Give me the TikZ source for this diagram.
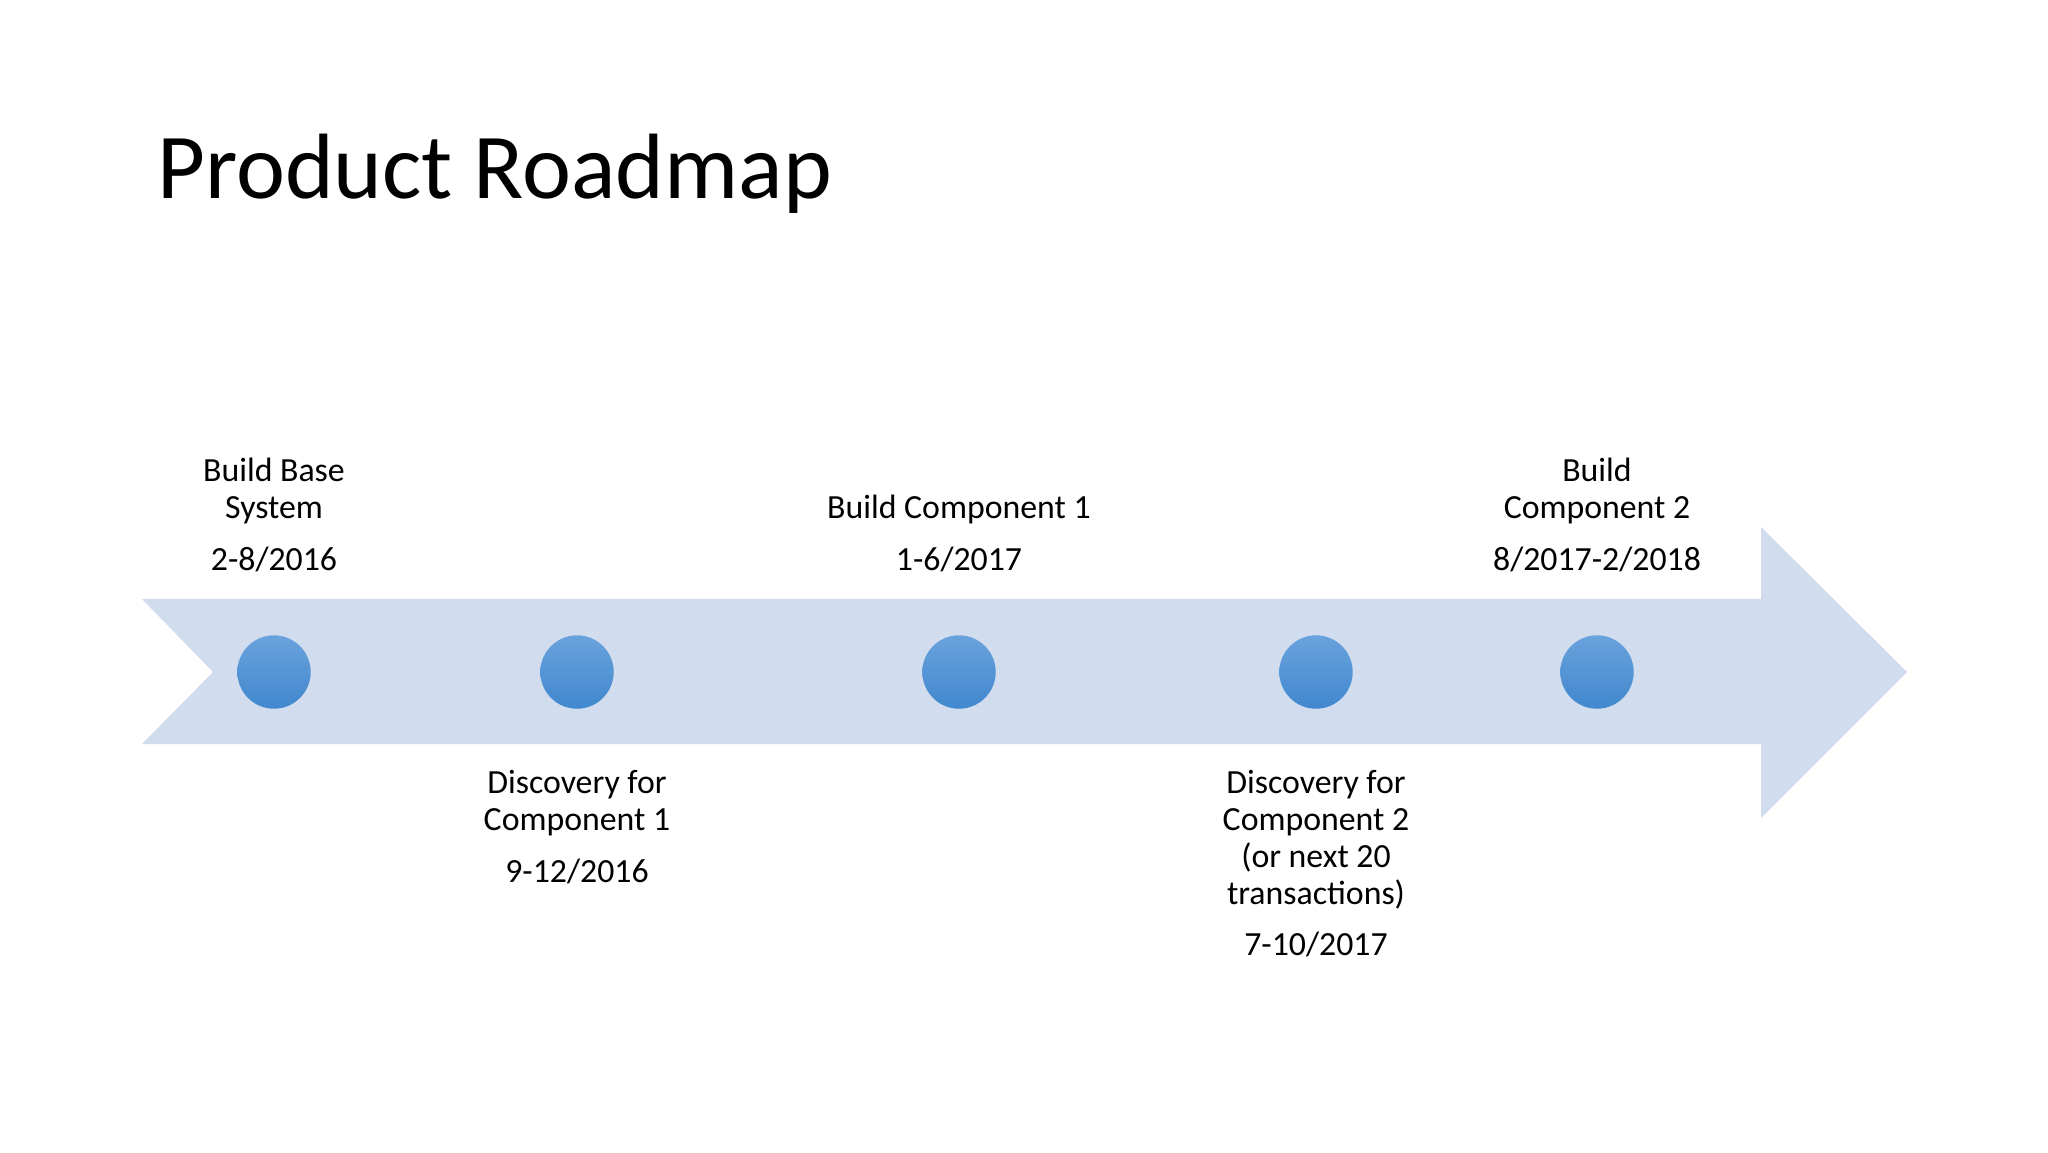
\documentclass[tikz,border=0pt]{standalone}
\usepackage{fontspec}
\setmainfont{Carlito}
\definecolor{band}{RGB}{209,221,238}
\definecolor{dotTop}{RGB}{106,162,221}
\definecolor{dotBot}{RGB}{64,136,206}
\begin{document}
\begin{tikzpicture}[x=0.5pt,y=-0.5pt,
  lbl/.style={font=\fontsize{16.9pt}{19pt}\selectfont, inner sep=0pt, anchor=base, text=black},
  dot/.style={circle, minimum size=36.7pt, inner sep=0pt, top color=dotTop, bottom color=dotBot, draw=none},
  ttl/.style={font=\fontsize{46.4pt}{54pt}\selectfont, inner sep=0pt, anchor=base west, text=black}]
\useasboundingbox (0,0) rectangle (2048,1152);
\fill[white] (0,0) rectangle (2048,1152);
% arrow
\fill[band] (142,599) -- (1761,599) -- (1761,527) -- (1907,672) -- (1761,818) -- (1761,744) -- (142,744) -- (213,672) -- cycle;
% title
\node[ttl] (title) at (157,198) {Product Roadmap};
% dots
\node[dot] (d1) at (274,672) {};
\node[dot] (d2) at (577,672) {};
\node[dot] (d3) at (959,672) {};
\node[dot] (d4) at (1316,672) {};
\node[dot] (d5) at (1597,672) {};
% labels above
\node[lbl] (a1) at (274,481) {Build Base};
\node[lbl] (a2) at (274,518) {System};
\node[lbl] (a3) at (274,570) {2-8/2016};
\node[lbl] (c1) at (959,518) {Build Component 1};
\node[lbl] (c2) at (959,570) {1-6/2017};
\node[lbl] (e1) at (1597,481) {Build};
\node[lbl] (e2) at (1597,518) {Component 2};
\node[lbl] (e3) at (1597,570) {8/2017-2/2018};
% labels below
\node[lbl] (b1) at (577,793) {Discovery for};
\node[lbl] (b2) at (577,830) {Component 1};
\node[lbl] (b3) at (577,882) {9-12/2016};
\node[lbl] (f1) at (1316,793) {Discovery for};
\node[lbl] (f2) at (1316,830) {Component 2};
\node[lbl] (f3) at (1316,867) {(or next 20};
\node[lbl] (f4) at (1316,904) {transactions)};
\node[lbl] (f5) at (1316,955) {7-10/2017};
\end{tikzpicture}
\end{document}
